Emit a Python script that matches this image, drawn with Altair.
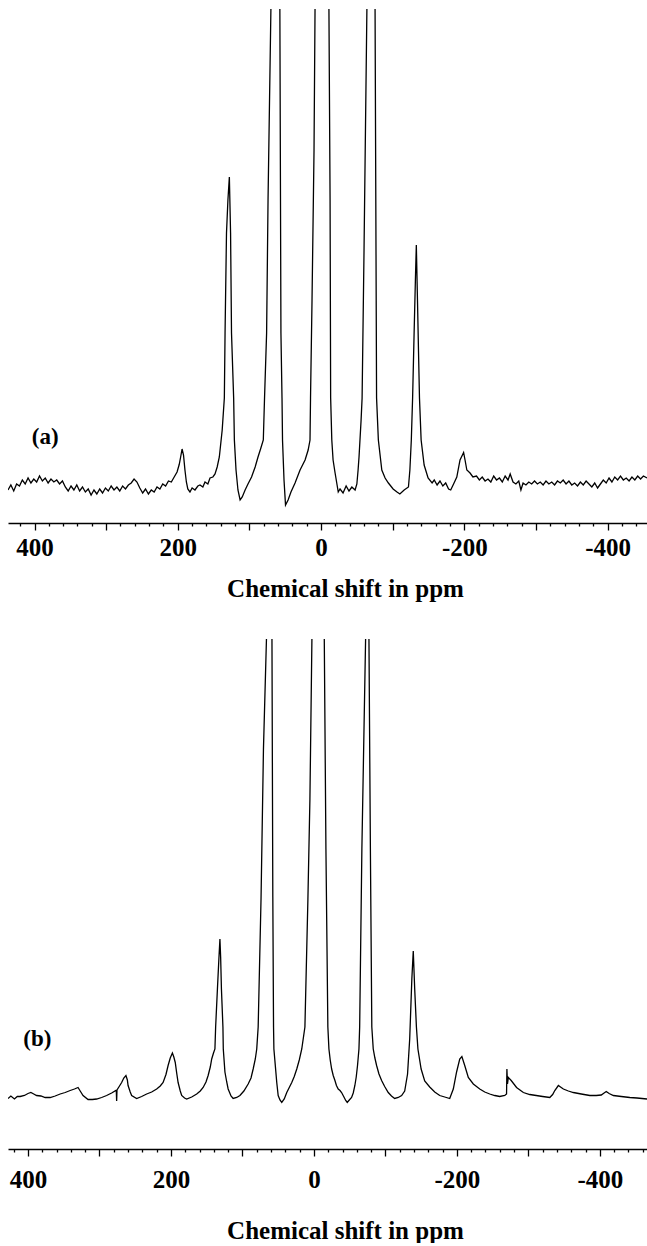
import altair as alt
import pandas as pd

# ---------------- data ----------------
# panel (a): chemical shift (ppm) and intensity (arbitrary units)
ppm_a = [437, 433, 429, 425, 421, 417, 413, 409, 405, 401, 397, 393, 389, 385, 381, 377, 373, 369, 365, 361,
         357, 353, 349, 345, 341, 337, 333, 329, 325, 321, 317, 313, 309, 305, 301, 297, 293, 289, 285, 281,
         277, 273, 269, 265, 261, 257, 253, 249, 245, 241, 237, 233, 229, 225, 221, 217, 213, 209, 205, 201,
         198, 196, 194, 192, 190, 188, 186, 183, 180, 176, 172, 169, 165, 162, 158, 155, 151, 148, 145, 142,
         138, 135, 134, 132, 130, 128, 126.3, 125, 122, 121, 118.7, 116, 113, 110, 106, 102, 97, 92, 88, 84,
         80.6, 78.9, 76, 74, 70, 68, 65, 60, 57.5, 56, 54.5, 53.8, 51.7, 49.6, 46, 42, 36.3, 29.3, 22.3, 18,
         15.4, 14.7, 12.6, 9.8, 8.4, 4, -1.5, -7, -11, -12.6, -13.4, -15, -16.8, -19.6, -24, -26.5, -30.7, -35,
         -39, -43, -47.5, -50, -51.7, -53, -55.9, -57.3, -60, -64, -67, -70, -73, -75.4, -77.5, -80, -84.8,
         -89.4, -94, -100.6, -106, -110, -116, -122, -124, -126, -127.8, -130, -131.7, -133, -134.6, -136,
         -137.4, -139.7, -143.9, -149.4, -155, -158, -162, -166, -170, -174, -178, -181, -185, -189.5, -194,
         -199, -201, -203.5, -208, -212, -217, -221, -225, -229, -233, -237, -241, -245, -249, -253, -257,
         -261, -264, -268, -272, -276, -279, -282, -286, -290, -294, -298, -302, -306, -310, -314, -318, -322,
         -326, -330, -334, -338, -342, -346, -350, -354, -358, -362, -366, -370, -374, -378, -382, -386, -390,
         -394, -398, -402, -406, -410, -414, -418, -422, -426, -430, -434, -438, -442, -446, -450, -455]
int_a = [-0.6, 0.4, -0.8, 0.6, 0.2, 1.4, 0.6, 1.8, 0.8, 1.6, 1.0, 2.2, 1.2, 1.8, 0.8, 1.6, 1.0, 1.4, 0.6, 1.2,
         0.0, -0.8, 0.2, -0.6, 0.4, -0.8, 0.0, -1.0, -0.4, -1.6, -0.6, -1.4, -0.4, -1.2, -0.2, -0.8, 0.2, -0.6, 0.0, -0.8,
         0.2, -0.4, 0.4, 0.8, 1.6, 1.0, -0.2, -1.2, -0.4, -1.4, -0.6, -1.0, 0.0, -0.4, 0.6, 0.2, 1.2, 1.0, 2.0, 3.0,
         4.5, 6.0, 7.6, 6.4, 3.4, 1.0, -0.4, -1.0, -0.2, -0.6, 0.2, 0.4, 0.0, 1.0, 0.6, 1.8, 2.0, 2.6, 4.0, 6.0,
         11.4, 17.8, 30.8, 50.8, 57.4, 62.0, 50.8, 30.8, 17.8, 9.4, 3.4, -0.6, -2.6, -2.0, -0.6, 0.6, 2.0, 4.0, 6.0, 7.8,
         9.4, 17.8, 30.8, 57.4, 95.6, 200, 320, 200, 95.6, 30.8, 17.8, 9.4, 1.4, -3.6, -2.6, -1.0, 0.8, 3.4, 5.4, 7.4,
         9.4, 17.8, 37.4, 67.4, 95.6, 250, 400, 250, 95.6, 57.4, 17.8, 9.4, 5.4, 2.8, -1.0, -0.4, -1.2, 0.2,
         -0.8, 0.0, -0.6, 0.6, 3.4, 6.0, 13.4, 17.8, 47.4, 95.6, 200, 300, 200, 95.6, 17.8, 9.4, 3.4,
         1.8, 0.8, -0.4, -1.0, -1.4, -0.6, 0.0, 3.4, 9.4, 17.8, 31.4, 41.4, 48.4, 37.4, 27.4,
         17.8, 9.4, 4.4, 1.8, 0.8, 1.4, 0.4, 1.2, 0.2, 0.8, -0.4, -0.6, 0.6, 2.0, 5.4,
         6.9, 5.4, 3.4, 2.8, 2.0, 2.2, 1.4, 2.0, 1.2, 1.6, 1.0, 2.2, 1.4, 1.8, 1.0, 2.2,
         1.4, 2.6, 1.0, 0.6, 1.2, -0.6, 0.8, 0.4, 1.0, 0.6, 1.2, 0.6, 1.0, 0.4, 1.2, 0.6, 1.0,
         0.4, 1.2, 0.8, 1.4, 0.6, 1.2, 0.4, 0.8, 0.2, 1.0, 0.4, 1.2, 0.6, 0.0, 0.8, -0.2, 0.6,
         1.4, 0.8, 1.8, 1.0, 2.0, 1.4, 2.2, 1.4, 1.8, 1.2, 2.0, 1.4, 2.2, 1.6, 2.2, 1.8]

# panel (b)
ppm_b = [428, 424, 419, 415, 411, 405, 400, 396, 392, 388, 382, 376, 369, 362, 355, 348, 341, 335, 330, 327,
         323, 316, 310, 304, 297, 290, 283, 277, 276.5, 276, 275.5, 272, 269, 266, 263, 261, 260, 257, 255, 248,
         241, 234, 227, 220, 215, 211, 207, 204, 201, 198, 196, 194, 192, 190, 187, 185, 181, 178, 171, 164,
         159, 155, 151, 148, 145, 143, 140.5, 138.5, 137.5, 135, 133, 131.5, 130.5, 129.4, 127.3, 126.8, 124.5,
         122, 120, 116, 113, 108, 103.5, 98, 92, 88, 85, 82, 80, 78, 74, 70.6, 66.4, 64.5, 62, 60, 58.7, 57.5,
         56.5, 56, 52, 50, 47.5, 45, 41.5, 38, 34.5, 31, 27.5, 24, 20.5, 17, 12.6, 8.4, 5.6, 2.8, -1, -5.6, -10,
         -14.5, -16.8, -19.5, -21, -22.8, -24.8, -27, -29.4, -31.5, -34, -36.5, -38.7, -42, -44.5, -46.6, -49.5,
         -52.7, -55, -57.3, -59.2, -61, -63, -64, -67.1, -72.3, -73.5, -74.8, -76, -77, -79, -81, -83, -85.3,
         -87.7, -91, -94.7, -99, -104, -108.5, -113, -118, -122.7, -127, -131, -134, -137, -139, -141, -143.4,
         -145.5, -150, -155, -162, -169, -176, -183, -190, -195, -199.6, -204, -207, -211, -216, -223, -232,
         -239, -246, -253, -260, -267, -269.5, -270, -270.8, -272, -276, -283.5, -293, -302, -311, -320, -330,
         -334, -337, -342, -345, -349, -356, -363, -374, -386, -395, -402, -406, -409, -413, -419, -430, -442,
         -452, -466]
int_b = [-0.3, 0.2, -0.4, 0.1, 0.1, 0.3, 0.7, 0.9, 0.6, 0.3, 0.2, -0.1, -0.1, 0.2, 0.6, 0.9, 1.3, 1.6, 1.9, 1.2,
         0.3, -0.5, -0.5, -0.4, -0.1, 0.3, 0.8, 1.3, 1.3, -0.8, 1.4, 2.2, 2.9, 3.8, 4.3, 3.4, 2.3, 1.0, 0.3, -0.3,
         0.1, 0.6, 1.0, 1.6, 2.2, 2.9, 4.5, 6.3, 7.8, 8.8, 8.0, 6.9, 4.8, 2.9, 1.2, 0.3, -0.2, -0.4, 0.0, 0.6,
         1.2, 1.9, 3.0, 4.3, 6.0, 7.6, 8.8, 9.6, 14, 21.6, 27.5, 31.6, 28, 21.6, 14, 9.6, 5.0,
         3.0, 1.6, 0.2, -0.3, -0.1, 0.3, 1.2, 2.6, 3.8, 5.6, 7.6, 9.6, 14, 39.6, 69.6, 91.6, 200, 300, 200, 91.6, 40,
         14, 9.6, 2.9, 0.3, -0.6, -1.1, -0.4, 0.9, 1.9, 2.9, 4.1, 5.6, 7.4, 9.6, 14, 39.6, 59.6, 91.6, 250, 400, 250,
         91.6, 49.6, 14, 9.6, 7.4, 5.6, 4.3, 3.3, 2.3, 1.6, 1.3, 0.9, 0.0, -0.7, -1.1, -0.6,
         -0.1, 0.8, 2.3, 4.0, 6.3, 9.6, 14, 49.6, 91.6, 200, 300, 200, 91.6, 49.6, 14, 9.6, 7.8,
         6.3, 4.6, 3.3, 2.1, 0.9, 0.2, -0.3, -0.1, 0.3, 1.2, 4.6, 11.6, 23.6, 29.2, 21.6, 14,
         9.6, 5.6, 3.2, 2.0, 1.0, 0.3, 0.0, -0.3, 1.6, 5.0, 7.6, 8.1, 6.3, 3.9, 2.6, 1.6,
         1.0, 0.6, 0.3, 0.1, 0.3, 0.6, 5.6, 2.6, 3.9, 3.3, 1.9, 0.9, 0.5, 0.3, 0.1, -0.1,
         0.5, 1.3, 2.3, 2.0, 1.6, 1.2, 0.9, 0.6, 0.3, 0.3, 0.4, 0.8, 1.1, 0.7, 0.3, 0.1, -0.1,
         -0.2, -0.4]

tick_values = list(range(-460, 421, 20))
panel_names = ["(a)", "(b)"]
panel_label_ppm = [385, 387]
panel_label_int = [10.0, 11.6]
axis_title = "Chemical shift in ppm"

FONT = "Liberation Serif"


def panel(ppm, inten, xdom, ydom, name, lppm, lint, lab_pad, title_y, height):
    df = pd.DataFrame({"ppm": ppm, "inten": inten})
    ticks = [t for t in tick_values if xdom[0] <= t <= xdom[1]]
    xscale = alt.Scale(domain=xdom, reverse=True, nice=False, zero=False)
    yscale = alt.Scale(domain=ydom, nice=False, zero=False)
    axis = alt.Axis(
        values=ticks,
        title=axis_title,
        grid=False,
        labelExpr="datum.value % 200 === 0 ? '' + datum.value : ''",
        labelOverlap=False,
        labelFlush=False,
        labelFont=FONT, labelFontSize=25, labelFontWeight="bold", labelColor="black",
        labelPadding=lab_pad,
        domainColor="black", domainWidth=1.6,
        tickColor="black", tickWidth=1.3,
        tickSize={"condition": {"test": "datum.value % 100 === 0", "value": 7}, "value": 3},
        titleFont=FONT, titleFontSize=25, titleFontWeight="bold", titleColor="black",
        titleX=337, titleY=title_y, titleAlign="center", titleBaseline="middle",
    )
    line = alt.Chart(df).mark_line(color="black", strokeWidth=1.3, clip=True).encode(
        x=alt.X("ppm:Q", scale=xscale, axis=axis),
        y=alt.Y("inten:Q", scale=yscale, axis=None),
    )
    lab_df = pd.DataFrame({"ppm": [lppm], "inten": [lint], "name": [name]})
    label = alt.Chart(lab_df).mark_text(font=FONT, fontSize=23, fontWeight="bold", color="black",
                                        align="center", baseline="middle").encode(
        x=alt.X("ppm:Q", scale=xscale, axis=axis),
        y=alt.Y("inten:Q", scale=yscale, axis=None),
        text="name:N",
    )
    return alt.layer(line, label).properties(width=639, height=height)


pa = panel(ppm_a, int_a, [-455, 437], [-7.2, 95.6], panel_names[0], panel_label_ppm[0], panel_label_int[0],
           5, 65, 514)
pb = panel(ppm_b, int_b, [-466, 428], [-10.4, 91.6], panel_names[1], panel_label_ppm[1], panel_label_int[1],
           11, 81, 510)

chart = alt.vconcat(pa, pb, spacing=38).properties(
    padding={"left": 8, "top": 9, "right": 0, "bottom": 0},
    background="white",
).configure_view(stroke=None, strokeWidth=0)

chart.save("out.html", embed_options={"renderer": "svg", "actions": False})
